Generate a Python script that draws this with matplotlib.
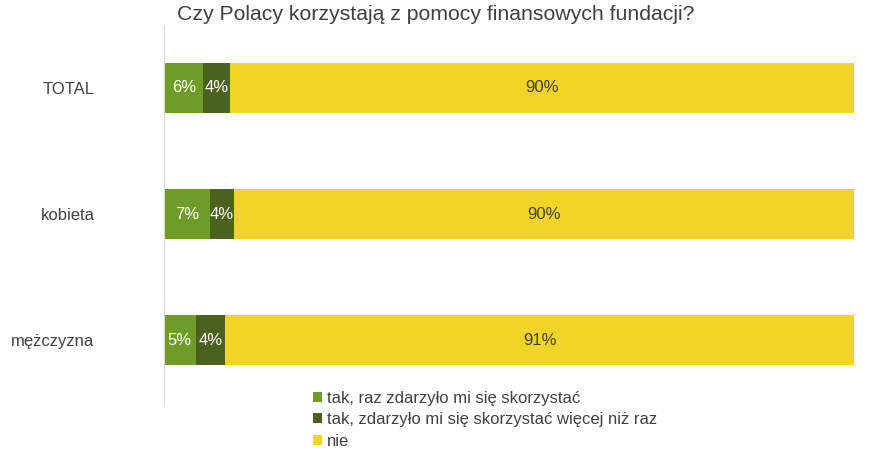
import matplotlib.pyplot as plt
import numpy as np

plt.rcParams['font.family'] = ['Liberation Sans', 'DejaVu Sans']

# data
categories = ["TOTAL", "kobieta", "mężczyzna"]
series_names = ["tak, raz zdarzyło mi się skorzystać",
                "tak, zdarzyło mi się skorzystać więcej niż raz",
                "nie"]
once = [5.7, 6.6, 4.6]
more = [3.9, 3.6, 4.3]
never = [90.4, 89.8, 91.1]
series = [once, more, never]
colors = ["#6f9b29", "#4b621f", "#f2d428"]
label_colors = ["white", "white", "#404040"]

fig = plt.figure(figsize=(8.82, 4.53), dpi=100)
ax = fig.add_axes([0.186, 0.110, 0.782, 0.835])

y = np.arange(len(categories))
left = np.zeros(len(categories))
handles = []
for vals, col, lc, name in zip(series, colors, label_colors, series_names):
    vals = np.array(vals)
    bars = ax.barh(y, vals, left=left, height=0.4, color=col, label=name)
    handles.append(bars)
    for yi, l, v in zip(y, left, vals):
        ax.text(l + v / 2, yi, f"{round(v):.0f}%", ha="center", va="center",
                color=lc, fontsize=12)
    left = left + vals

ax.set_xlim(0, 100)
ax.set_ylim(2.5, -0.5)
ax.set_yticks(y)
ax.set_yticklabels(categories, fontsize=12, color="#404040")
ax.tick_params(axis="y", length=0, pad=50)
ax.set_xticks([])
for s in ["top", "right", "bottom"]:
    ax.spines[s].set_visible(False)
ax.spines["left"].set_color("#d9d9d9")

fig.text(177 / 882, 1 - 15 / 453, "Czy Polacy korzystają z pomocy finansowych fundacji?",
         fontsize=15.3, color="#404040", va="center", ha="left")

fig.legend(handles=handles, loc="upper left", bbox_to_anchor=(298 / 882, 1 - 376 / 453),
           frameon=False, fontsize=12, handlelength=0.55, handleheight=0.55,
           handletextpad=0.3, labelspacing=0.38, labelcolor="#404040")

fig.savefig("out.png", dpi=100)
